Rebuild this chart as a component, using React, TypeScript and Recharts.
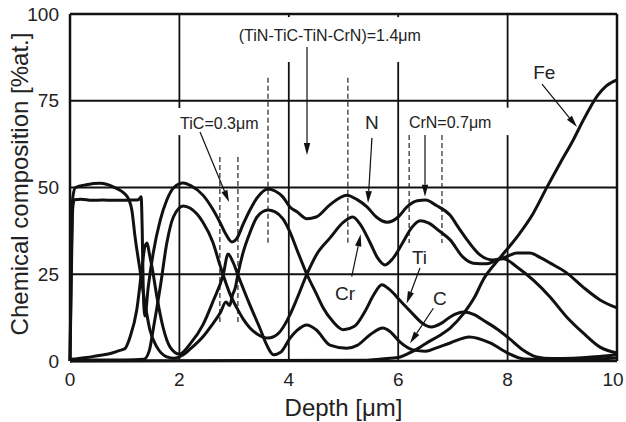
import React from 'react';
import { LineChart, Line, XAxis, YAxis, ReferenceLine, ReferenceDot } from 'recharts';

// depth [um], composition [%at.]
const nitrogen: [number, number][] = [
  [0, 0], [0.02, 20], [0.05, 44], [0.08, 46.5], [0.2, 46.6], [0.4, 46.3], [0.6, 46.4], [0.8, 46.3], [1.0, 46.3],
  [1.15, 46.4], [1.25, 46.5], [1.3, 47.3], [1.32, 38], [1.34, 20], [1.37, 13], [1.43, 21.3], [1.52, 31], [1.65, 40.6],
  [1.77, 46.4], [1.9, 50], [2.07, 51.3], [2.2, 50.6], [2.43, 47.8], [2.6, 44], [2.74, 40], [2.85, 36.5], [2.96, 34.3],
  [3.06, 35.6], [3.16, 39.2], [3.29, 43.5], [3.42, 47], [3.62, 49.6], [3.75, 49], [3.89, 47.3], [4.02, 44.4],
  [4.15, 43], [4.33, 41], [4.5, 41.5], [4.75, 45], [5.06, 47.8], [5.25, 46.5], [5.43, 44.4], [5.6, 41.5], [5.8, 40],
  [6.0, 41.5], [6.16, 44.4], [6.35, 46.2], [6.5, 46.4], [6.7, 44.8], [6.95, 42], [7.1, 38.5], [7.26, 34.9],
  [7.5, 30.5], [7.73, 29.1], [7.92, 29.5], [8.17, 27.1], [8.47, 23.3], [8.78, 18.4], [9.08, 12.7], [9.38, 8.1],
  [9.69, 4.0], [10, 2.3],
];

const chromium: [number, number][] = [
  [0, 0], [0.1, 0.3], [0.5, 0.3], [1.0, 0.3], [1.35, 0.5], [1.45, 3], [1.52, 9], [1.65, 21.3], [1.77, 34],
  [1.89, 41.5], [2.07, 44.7], [2.2, 44], [2.43, 40], [2.61, 34.3], [2.74, 27.7], [2.8, 24.8], [2.92, 19.5],
  [3.05, 15.3], [3.17, 12], [3.29, 9.5], [3.45, 7.5], [3.62, 6.6], [3.8, 7.8], [3.9, 9.8], [4.02, 13.3], [4.15, 18],
  [4.33, 25], [4.5, 30.5], [4.75, 35.4], [5.0, 40], [5.17, 41.5], [5.3, 39.5], [5.48, 34.3], [5.62, 29.8],
  [5.76, 27.7], [5.9, 29.5], [6.09, 34.3], [6.25, 38.5], [6.4, 40.4], [6.55, 39.8], [6.75, 37.5], [6.95, 34.9],
  [7.18, 30], [7.37, 28.2], [7.62, 28], [7.8, 29.1], [8.0, 30.2], [8.17, 31.1], [8.4, 31.1], [8.6, 29.8],
  [8.78, 28.2], [9.08, 25.4], [9.38, 21.3], [9.69, 17.6], [10, 15.3],
];

const titanium: [number, number][] = [
  [0, 0], [0.02, 25], [0.05, 47], [0.1, 50], [0.3, 50.8], [0.55, 51.2], [0.8, 50.1], [1.04, 47.5], [1.13, 43.5],
  [1.19, 35.7], [1.28, 26.2], [1.37, 16.7], [1.46, 9], [1.59, 4], [1.77, 1.2], [1.9, 0.8], [2.07, 1.8], [2.2, 3.5],
  [2.43, 7], [2.6, 10.5], [2.75, 14], [2.85, 17], [2.92, 16], [2.97, 19], [3.02, 21], [3.07, 25], [3.16, 31],
  [3.29, 37], [3.42, 41.5], [3.62, 43.5], [3.75, 43], [3.89, 41], [4.02, 37.2], [4.15, 32], [4.33, 25], [4.5, 19.5],
  [4.63, 15.3], [4.8, 11.5], [5.0, 9], [5.2, 10], [5.4, 14.5], [5.55, 19], [5.7, 22], [5.85, 20.5], [6.03, 17.5],
  [6.15, 15.5], [6.27, 13.5], [6.45, 10.8], [6.6, 9.8], [6.8, 11], [6.95, 12.7], [7.2, 14.1], [7.4, 13.3],
  [7.55, 11.8], [7.8, 9.3], [8.0, 6.9], [8.28, 3.2], [8.53, 1.2], [8.8, 0.7], [9.2, 0.8], [9.6, 1.2], [10, 1.8],
];

const carbon: [number, number][] = [
  [0, 0], [0.03, 0.5], [0.1, 0.6], [0.3, 1], [0.5, 1.5], [0.7, 2], [0.9, 3], [1.0, 3.5], [1.1, 7], [1.22, 14.7],
  [1.31, 26], [1.37, 33], [1.41, 34], [1.45, 31], [1.5, 27], [1.59, 18.4], [1.7, 9.8], [1.83, 4], [2.0, 2], [2.2, 5],
  [2.43, 10.4], [2.61, 17], [2.8, 24.8], [2.89, 30.8], [2.98, 28.5], [3.07, 24.8], [3.29, 16.1], [3.47, 9.5],
  [3.6, 4.5], [3.72, 1.8], [3.85, 2.5], [4.02, 6.5], [4.15, 8.8], [4.33, 10.4], [4.5, 9], [4.75, 4.6], [5.06, 3.7],
  [5.25, 4.5], [5.48, 7.5], [5.72, 9.5], [5.85, 8.5], [6.03, 5.5], [6.27, 3.2], [6.5, 2.8], [6.7, 3.8], [6.95, 5.2],
  [7.3, 6.9], [7.68, 5.2], [8.0, 2.3], [8.3, 0.6], [9, 0.4], [10, 0.9],
];

const iron: [number, number][] = [
  [0, 0], [5.4, 0.2], [5.7, 0.6], [6.0, 1], [6.16, 2], [6.35, 3.5], [6.5, 5], [6.8, 7.8], [6.95, 9.5], [7.2, 13.8],
  [7.4, 18.5], [7.55, 23.3], [7.86, 29.7], [8.17, 35.7], [8.47, 42.6], [8.72, 50.1], [8.96, 57], [9.2, 63.7],
  [9.38, 69.3], [9.5, 72.8], [9.65, 76.6], [9.8, 79.2], [10, 81],
];

const depthTicks = [0, 2, 4, 6, 8, 10];
const compTicks = [0, 25, 50, 75, 100];

// layer markers (dashed): x, from, to
const dashMarks: [number, number, number][] = [
  [2.74, 58.8, 10.4], [3.07, 58.8, 10.4], [3.62, 81.6, 34], [5.08, 81.6, 34], [6.2, 65.1, 34], [6.8, 65.1, 34],
];

// grid segments, broken where the annotations sit
const vGrid: [number, number, number][] = [
  [2, 100, 72.9], [2, 65.1, 0], [4, 100, 99.1], [4, 86.2, 0], [6, 100, 99.1], [6, 86.2, 0], [8, 100, 73], [8, 65.1, 0],
];
const hGrid = [25, 50, 75];

const arrows: [number, number, number, number][] = [
  [2.377, 66.0, 2.907, 45.8],
  [4.333, 90.5, 4.333, 59.4],
  [5.52, 64.3, 5.448, 45.5],
  [6.49, 65.1, 6.49, 47.3],
  [8.629, 79.8, 9.269, 67.4],
  [5.15, 24.3, 5.314, 36.5],
  [6.398, 26.8, 6.155, 16.6],
  [6.642, 15.2, 6.216, 5.1],
];

const notes: { x: number; y: number; text: string; size: number }[] = [
  { x: 4.75, y: 93.9, text: '(TiN-TiC-TiN-CrN)=1.4\u03bcm', size: 16 },
  { x: 2.73, y: 68.6, text: 'TiC=0.3\u03bcm', size: 16 },
  { x: 6.95, y: 68.9, text: 'CrN=0.7\u03bcm', size: 16 },
  { x: 5.52, y: 68.9, text: 'N', size: 19 },
  { x: 8.67, y: 83.3, text: 'Fe', size: 19 },
  { x: 5.03, y: 19.5, text: 'Cr', size: 19 },
  { x: 6.39, y: 29.8, text: 'Ti', size: 19 },
  { x: 6.76, y: 18, text: 'C', size: 19 },
];

const FONT = "'Liberation Sans', Arial, sans-serif";
const INK = '#111';

const toRows = (pts: [number, number][]) => pts.map(([d, v]) => ({ d, v }));

const Arrow = (p: any) => {
  const { x1, y1, x2, y2 } = p;
  const a = Math.atan2(y2 - y1, x2 - x1);
  const L = 12;
  const W = 3.2;
  const bx = x2 - L * Math.cos(a);
  const by = y2 - L * Math.sin(a);
  const nx = -Math.sin(a) * W;
  const ny = Math.cos(a) * W;
  return (
    <g>
      <line x1={x1} y1={y1} x2={bx} y2={by} stroke={INK} strokeWidth={1.2} />
      <polygon points={`${x2},${y2} ${bx + nx},${by + ny} ${bx - nx},${by - ny}`} fill={INK} />
    </g>
  );
};

const XTick = (p: any) => {
  const { x, y, payload } = p;
  const shift = payload.value === 10 ? -4 : 0;
  return (
    <text x={x + shift} y={y} dy="0.71em" textAnchor="middle" fontSize={19} fontFamily={FONT} fill="#222">
      {payload.value}
    </text>
  );
};

const series = [nitrogen, chromium, titanium, carbon, iron];

export default function App() {
  return (
    <div style={{ position: 'absolute', left: 0, top: 0, width: 626, height: 422, background: '#fff' }}>
      <LineChart width={626} height={422} margin={{ top: 14, right: 9, bottom: 0, left: 0 }}>
        <XAxis
          type="number"
          dataKey="d"
          domain={[0, 10]}
          ticks={depthTicks}
          interval={0}
          height={61}
          tickLine={false}
          tickSize={10}
          tickMargin={2}
          axisLine={{ stroke: INK, strokeWidth: 2.5 }}
          tick={<XTick />}
          label={{ value: 'Depth [\u03bcm]', position: 'insideBottom', offset: 6, fontSize: 24, fontFamily: FONT, fill: '#222' }}
        />
        <YAxis
          type="number"
          domain={[0, 100]}
          ticks={compTicks}
          interval={0}
          width={70}
          tickLine={false}
          tickSize={9}
          tickMargin={2}
          axisLine={{ stroke: INK, strokeWidth: 2.5 }}
          tick={{ fill: '#222', fontSize: 19, fontFamily: FONT }}
          label={{
            content: () => (
              <text x={28} y={184} transform="rotate(-90 28 184)" textAnchor="middle" fontSize={24} fontFamily={FONT} fill="#222">
                Chemical composition [%at.]
              </text>
            ),
          }}
        />
        {hGrid.map((v) => (
          <ReferenceLine key={'h' + v} y={v} stroke={INK} strokeWidth={1.8} />
        ))}
        {vGrid.map(([x, a, b], i) => (
          <ReferenceLine key={'v' + i} segment={[{ x, y: a }, { x, y: b }]} stroke={INK} strokeWidth={1.8} />
        ))}
        <ReferenceLine y={100} stroke={INK} strokeWidth={2.5} />
        <ReferenceLine x={10} stroke={INK} strokeWidth={2.5} />
        {dashMarks.map(([x, a, b], i) => (
          <ReferenceLine key={'d' + i} segment={[{ x, y: a }, { x, y: b }]} stroke="#222" strokeWidth={1.2} strokeDasharray="5 3" />
        ))}
        {series.map((s, i) => (
          <Line
            key={i}
            data={toRows(s)}
            dataKey="v"
            type="monotone"
            stroke={INK}
            strokeWidth={3}
            dot={false}
            activeDot={false}
            isAnimationActive={false}
          />
        ))}
        {arrows.map(([xa, ya, xb, yb], i) => (
          <ReferenceLine key={'a' + i} segment={[{ x: xa, y: ya }, { x: xb, y: yb }]} shape={(p: any) => <Arrow {...p} />} />
        ))}
        {notes.map((n, i) => (
          <ReferenceDot
            key={'n' + i}
            x={n.x}
            y={n.y}
            r={0}
            shape={(p: any) => (
              <text x={p.cx} y={p.cy} dy="0.35em" textAnchor="middle" fontSize={n.size} fontFamily={FONT} fill="#222">
                {n.text}
              </text>
            )}
          />
        ))}
      </LineChart>
    </div>
  );
}
